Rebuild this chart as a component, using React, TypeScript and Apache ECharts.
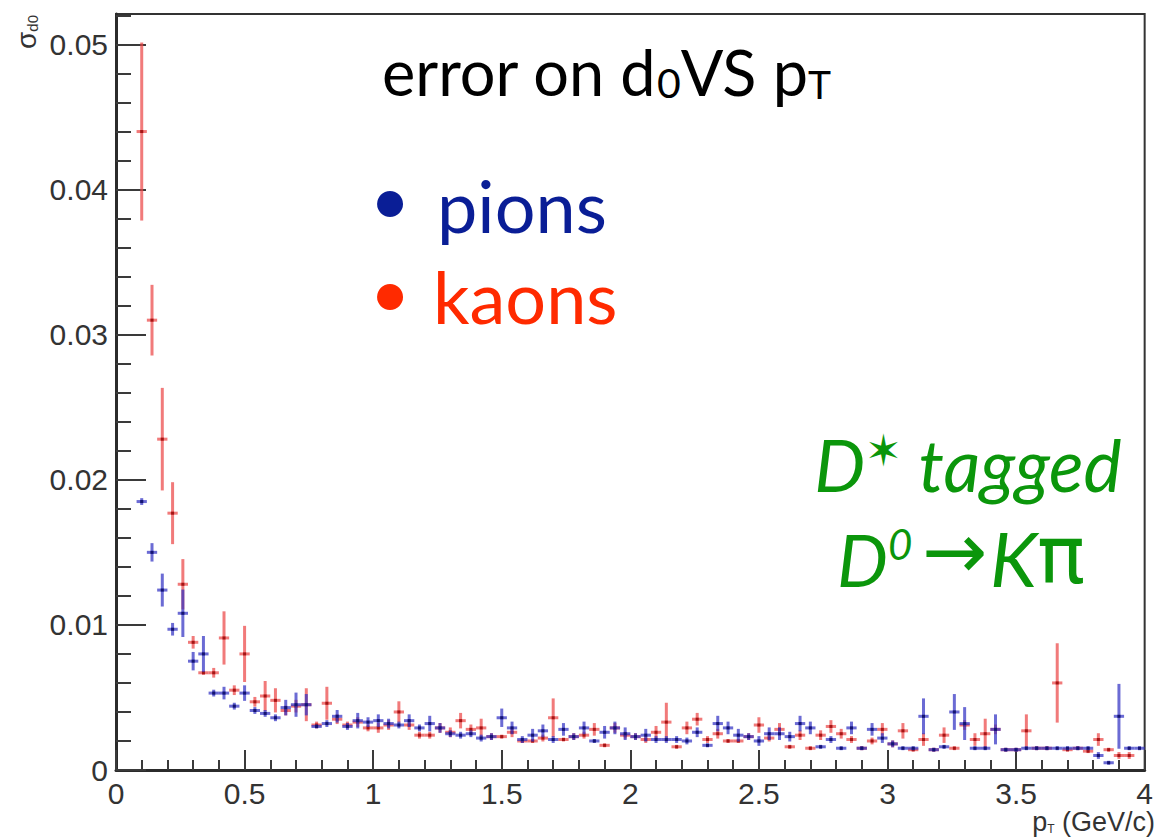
import React, { useEffect, useRef } from "react";
import * as echarts from "echarts";

// Bin centres of the pT histogram (GeV/c), 0.04 GeV/c wide bins
const ptBins = [
  0.10, 0.14, 0.18, 0.22, 0.26, 0.30, 0.34, 0.38, 0.42, 0.46,
  0.50, 0.54, 0.58, 0.62, 0.66, 0.70, 0.74, 0.78, 0.82, 0.86,
  0.90, 0.94, 0.98, 1.02, 1.06, 1.10, 1.14, 1.18, 1.22, 1.26,
  1.30, 1.34, 1.38, 1.42, 1.46, 1.50, 1.54, 1.58, 1.62, 1.66,
  1.70, 1.74, 1.78, 1.82, 1.86, 1.90, 1.94, 1.98, 2.02, 2.06,
  2.10, 2.14, 2.18, 2.22, 2.26, 2.30, 2.34, 2.38, 2.42, 2.46,
  2.50, 2.54, 2.58, 2.62, 2.66, 2.70, 2.74, 2.78, 2.82, 2.86,
  2.90, 2.94, 2.98, 3.02, 3.06, 3.10, 3.14, 3.18, 3.22, 3.26,
  3.30, 3.34, 3.38, 3.42, 3.46, 3.50, 3.54, 3.58, 3.62, 3.66,
  3.70, 3.74, 3.78, 3.82, 3.86, 3.90, 3.94, 3.98,
];

// sigma(d0) for pions and its uncertainty
const pionSigma = [
  0.0185, 0.0150, 0.0124, 0.0097, 0.0108, 0.0075, 0.0080, 0.0053, 0.0053, 0.0044,
  0.0053, 0.0041, 0.0039, 0.0036, 0.0043, 0.0045, 0.0045, 0.0030, 0.0032, 0.0037,
  0.0030, 0.0034, 0.0033, 0.0034, 0.0032, 0.0031, 0.0034, 0.0029, 0.0032, 0.0029,
  0.0025, 0.0024, 0.0025, 0.0022, 0.0023, 0.0036, 0.0029, 0.0021, 0.0024, 0.0027,
  0.0021, 0.0028, 0.0023, 0.0029, 0.0020, 0.0026, 0.0029, 0.0025, 0.0023, 0.0024,
  0.0021, 0.0021, 0.0021, 0.0020, 0.0026, 0.0017, 0.0032, 0.0029, 0.0024, 0.0023,
  0.0020, 0.0025, 0.0025, 0.0023, 0.0032, 0.0029, 0.0016, 0.0021, 0.0015, 0.0029,
  0.0015, 0.0028, 0.0022, 0.0018, 0.0015, 0.0015, 0.0037, 0.0014, 0.0016, 0.0040,
  0.0032, 0.0015, 0.0015, 0.0028, 0.0014, 0.0014, 0.0015, 0.0015, 0.0015, 0.0015,
  0.0015, 0.0015, 0.0015, 0.0010, 0.0005, 0.0037, 0.0015, 0.0015,
];
const pionErr = [
  0.0002, 0.0006, 0.0011, 0.0004, 0.0016, 0.0006, 0.0012, 0.0002, 0.0004, 0.0002,
  0.0005, 0.0002, 0.0002, 0.0002, 0.0005, 0.0008, 0.0007, 0.0001, 0.0002, 0.0004,
  0.0002, 0.0005, 0.0003, 0.0004, 0.0003, 0.0002, 0.0004, 0.0002, 0.0005, 0.0003,
  0.0002, 0.0002, 0.0002, 0.0002, 0.0002, 0.0006, 0.0004, 0.0002, 0.0004, 0.0004,
  0.0002, 0.0004, 0.0002, 0.0004, 0.0001, 0.0004, 0.0004, 0.0004, 0.0002, 0.0004,
  0.0002, 0.0002, 0.0002, 0.0002, 0.0003, 0.0001, 0.0005, 0.0004, 0.0004, 0.0002,
  0.0003, 0.0004, 0.0004, 0.0003, 0.0005, 0.0004, 0.0001, 0.0002, 0.0001, 0.0004,
  0.0001, 0.0004, 0.0003, 0.0002, 0.0001, 0.0001, 0.0012, 0.0001, 0.0001, 0.0012,
  0.0011, 0.0001, 0.0001, 0.0010, 0.0001, 0.0001, 0.0001, 0.0001, 0.0001, 0.0001,
  0.0001, 0.0001, 0.0001, 0.0002, 0.0001, 0.0022, 0.0001, 0.0001,
];

// sigma(d0) for kaons and its uncertainty (no entry in the last bin)
const kaonSigma = [
  0.0440, 0.0310, 0.0228, 0.0177, 0.0128, 0.0088, 0.0067, 0.0067, 0.0091, 0.0055,
  0.0080, 0.0047, 0.0051, 0.0048, 0.0041, 0.0044, 0.0045, 0.0031, 0.0046, 0.0035,
  0.0031, 0.0033, 0.0029, 0.0029, 0.0031, 0.0040, 0.0031, 0.0024, 0.0024, 0.0029,
  0.0026, 0.0034, 0.0028, 0.0029, 0.0023, 0.0023, 0.0026, 0.0020, 0.0020, 0.0022,
  0.0036, 0.0021, 0.0023, 0.0024, 0.0028, 0.0017, 0.0029, 0.0024, 0.0023, 0.0021,
  0.0026, 0.0033, 0.0016, 0.0029, 0.0035, 0.0021, 0.0025, 0.0020, 0.0020, 0.0023,
  0.0031, 0.0022, 0.0028, 0.0016, 0.0024, 0.0015, 0.0024, 0.0030, 0.0025, 0.0021,
  0.0015, 0.0020, 0.0028, 0.0018, 0.0027, 0.0014, 0.0021, 0.0014, 0.0024, 0.0015,
  0.0031, 0.0021, 0.0025, 0.0028, 0.0014, 0.0014, 0.0027, 0.0015, 0.0015, 0.0060,
  0.0014, 0.0015, 0.0013, 0.0021, 0.0014, 0.0010, 0.0010, null,
];
const kaonErr = [
  0.0061, 0.0024, 0.0035, 0.0021, 0.0017, 0.0004, 0.0001, 0.0003, 0.0018, 0.0003,
  0.0019, 0.0003, 0.0010, 0.0008, 0.0003, 0.0004, 0.0011, 0.0002, 0.0011, 0.0003,
  0.0002, 0.0003, 0.0002, 0.0003, 0.0003, 0.0007, 0.0003, 0.0002, 0.0002, 0.0003,
  0.0003, 0.0005, 0.0003, 0.0006, 0.0002, 0.0001, 0.0003, 0.0001, 0.0001, 0.0002,
  0.0013, 0.0001, 0.0002, 0.0002, 0.0004, 0.0001, 0.0003, 0.0002, 0.0002, 0.0002,
  0.0004, 0.0013, 0.0001, 0.0004, 0.0004, 0.0002, 0.0003, 0.0001, 0.0001, 0.0002,
  0.0005, 0.0002, 0.0004, 0.0001, 0.0003, 0.0001, 0.0003, 0.0004, 0.0003, 0.0002,
  0.0001, 0.0002, 0.0004, 0.0002, 0.0005, 0.0001, 0.0004, 0.0001, 0.0005, 0.0001,
  0.0003, 0.0004, 0.0010, 0.0003, 0.0001, 0.0001, 0.0011, 0.0001, 0.0001, 0.0027,
  0.0001, 0.0001, 0.0001, 0.0004, 0.0001, 0.0002, 0.0002, null,
];

// Axis ticks: labelled major ticks and the finer minor ticks of the y axis
const yMajorTicks = [0, 0.01, 0.02, 0.03, 0.04, 0.05];
const yMinorTicks = [
  0.002, 0.004, 0.006, 0.008, 0.012, 0.014, 0.016, 0.018, 0.022, 0.024, 0.026,
  0.028, 0.032, 0.034, 0.036, 0.038, 0.042, 0.044, 0.046, 0.048, 0.052,
];

const HALF_BIN = 0.02;
const Y_MAX = 0.0521;

function toPoints(vals: (number | null)[], errs: (number | null)[]) {
  const out: number[][] = [];
  ptBins.forEach((x, i) => {
    const v = vals[i];
    if (v == null) return;
    out.push([x, v, errs[i] ?? 0]);
  });
  return out;
}

function errorCross(barColor: string, dotColor: string) {
  return (params: any, api: any) => {
    const x = api.value(0);
    const y = api.value(1);
    const e = api.value(2);
    const l = api.coord([x - HALF_BIN, y]);
    const r = api.coord([x + HALF_BIN, y]);
    const t = api.coord([x, y + e]);
    const b = api.coord([x, Math.max(0, y - e)]);
    const c = api.coord([x, y]);
    return {
      type: "group",
      children: [
        {
          type: "line",
          shape: { x1: l[0], y1: l[1], x2: r[0], y2: r[1] },
          style: { stroke: barColor, lineWidth: 3 },
        },
        {
          type: "line",
          shape: { x1: t[0], y1: t[1] - 0.5, x2: b[0], y2: b[1] + 0.5 },
          style: { stroke: barColor, lineWidth: 3 },
        },
        {
          type: "rect",
          shape: { x: c[0] - 1.5, y: c[1] - 1.5, width: 3, height: 3 },
          style: { fill: dotColor },
        },
      ],
    };
  };
}

const AXIS_FONT = "'Liberation Sans', Arial, sans-serif";
const TEXT_FONT = "Lato, 'Open Sans', sans-serif";
const GREEN = "#0b960b";
const PION_BLUE = "#0a1e96";
const KAON_RED = "#ff2a00";

export default function App() {
  const ref = useRef<HTMLDivElement>(null);

  useEffect(() => {
    if (!ref.current) return;
    const chart = echarts.init(ref.current, undefined, { renderer: "svg" });

    const axisLineStyle = { color: "#2b2b2b", width: 3 };
    const tickLineStyle = { color: "#3a3a3a", width: 2 };
    const greenItalic = { fontFamily: TEXT_FONT, fontStyle: "italic", fontSize: 72, fill: GREEN, verticalAlign: "bottom" };

    chart.setOption({
      animation: false,
      backgroundColor: "#ffffff",
      grid: {
        left: 116,
        right: 2,
        top: 14,
        bottom: 70,
        show: true,
        borderColor: "#333",
        borderWidth: 2,
        backgroundColor: "transparent",
      },
      xAxis: {
        type: "value",
        min: 0,
        max: 4,
        interval: 0.5,
        axisLine: { show: true, onZero: false, lineStyle: axisLineStyle },
        axisTick: { show: true, inside: true, length: 20, lineStyle: tickLineStyle },
        minorTick: { show: true, splitNumber: 5, length: 10, lineStyle: tickLineStyle },
        splitLine: { show: false },
        minorSplitLine: { show: false },
        axisLabel: {
          fontFamily: AXIS_FONT,
          fontSize: 30,
          lineHeight: 24,
          color: "#333",
          margin: 11,
          showMinLabel: true,
          showMaxLabel: true,
        },
      },
      yAxis: [
        {
          type: "value",
          min: 0,
          max: Y_MAX,
          interval: 0.01,
          axisLine: { show: true, onZero: false, lineStyle: axisLineStyle },
          axisTick: {
            show: true,
            inside: true,
            length: 30,
            lineStyle: tickLineStyle,
            customValues: yMajorTicks,
          },
          splitLine: { show: false },
          axisLabel: {
            customValues: yMajorTicks,
            fontFamily: AXIS_FONT,
            fontSize: 30,
            color: "#333",
            margin: 8,
            formatter: (v: number) => String(Math.round(v * 1000) / 1000),
          },
        },
        {
          type: "value",
          min: 0,
          max: Y_MAX,
          position: "left",
          axisLine: { show: false },
          axisTick: {
            show: true,
            inside: true,
            length: 15,
            lineStyle: tickLineStyle,
            customValues: yMinorTicks,
          },
          axisLabel: { show: false },
          splitLine: { show: false },
        },
      ],
      series: [
        {
          name: "kaons",
          type: "custom",
          clip: true,
          renderItem: errorCross("rgba(236, 70, 70, 0.72)", "#a31515"),
          data: toPoints(kaonSigma, kaonErr),
          encode: { x: 0, y: 1 },
          z: 2,
        },
        {
          name: "pions",
          type: "custom",
          clip: true,
          renderItem: errorCross("rgba(50, 50, 195, 0.72)", "#141470"),
          data: toPoints(pionSigma, pionErr),
          encode: { x: 0, y: 1 },
          z: 3,
        },
      ],
      graphic: [
        // y axis title: sigma_d0, rotated
        {
          type: "text",
          x: 26,
          y: 32,
          rotation: Math.PI / 2,
          style: {
            text: "{a|σ}{s|d0}",
            align: "center",
            verticalAlign: "middle",
            rich: {
              a: { fontFamily: AXIS_FONT, fontSize: 28, fill: "#333", verticalAlign: "bottom" },
              s: { fontFamily: AXIS_FONT, fontSize: 15, fill: "#333", verticalAlign: "bottom" },
            },
          },
        },
        // x axis title: p_T (GeV/c)
        {
          type: "text",
          x: 1155,
          y: 835,
          style: {
            text: "{a|p}{s|T}{a| (GeV/c)}",
            align: "right",
            verticalAlign: "bottom",
            rich: {
              a: { fontFamily: AXIS_FONT, fontSize: 27, lineHeight: 27, fill: "#333", verticalAlign: "bottom" },
              s: { fontFamily: AXIS_FONT, fontSize: 12, fill: "#333", verticalAlign: "bottom" },
            },
          },
        },
        // plot title
        {
          type: "text",
          x: 382,
          y: 103,
          style: {
            text: "{a|error on d}{s|0}{a|VS p}{t|T}",
            align: "left",
            verticalAlign: "bottom",
            rich: {
              a: { fontFamily: TEXT_FONT, fontSize: 63, fill: "#000", verticalAlign: "bottom" },
              s: { fontFamily: TEXT_FONT, fontSize: 41, fill: "#000", verticalAlign: "bottom" },
              t: { fontFamily: TEXT_FONT, fontSize: 39, fill: "#000", verticalAlign: "bottom" },
            },
          },
        },
        // bullet list of particle species
        {
          type: "text",
          x: 390,
          y: 198,
          style: {
            text: "•",
            fontFamily: TEXT_FONT,
            fontSize: 70,
            fill: PION_BLUE,
            align: "center",
            verticalAlign: "middle",
          },
        },
        {
          type: "text",
          x: 437,
          y: 205,
          style: {
            text: "pions",
            fontFamily: TEXT_FONT,
            fontSize: 72,
            fill: PION_BLUE,
            align: "left",
            verticalAlign: "middle",
          },
        },
        {
          type: "text",
          x: 390,
          y: 291,
          style: {
            text: "•",
            fontFamily: TEXT_FONT,
            fontSize: 70,
            fill: KAON_RED,
            align: "center",
            verticalAlign: "middle",
          },
        },
        {
          type: "text",
          x: 433,
          y: 296,
          style: {
            text: "kaons",
            fontFamily: TEXT_FONT,
            fontSize: 72,
            fill: KAON_RED,
            align: "left",
            verticalAlign: "middle",
          },
        },
        // decay channel annotation
        {
          type: "text",
          x: 968,
          y: 500,
          style: {
            text: "{d|D}{st|✶}{d| tagged}",
            align: "center",
            verticalAlign: "bottom",
            rich: {
              d: greenItalic,
              st: { fontFamily: "'DejaVu Sans'", fontSize: 44, fill: GREEN, verticalAlign: "top" },
            },
          },
        },
        {
          type: "text",
          x: 837,
          y: 595,
          style: {
            text: "{d|D}{sp|0}",
            align: "left",
            verticalAlign: "bottom",
            rich: {
              d: greenItalic,
              sp: { fontFamily: TEXT_FONT, fontStyle: "italic", fontSize: 42, fill: GREEN, verticalAlign: "top" },
            },
          },
        },
        {
          type: "text",
          x: 955,
          y: 551,
          style: {
            text: "→",
            fontFamily: "'DejaVu Sans'",
            fontSize: 78,
            fill: GREEN,
            align: "center",
            verticalAlign: "middle",
          },
        },
        {
          type: "text",
          x: 990,
          y: 595,
          style: {
            text: "{d|K}{pi|π}",
            align: "left",
            verticalAlign: "bottom",
            rich: {
              d: { ...greenItalic, fontSize: 76 },
              pi: { fontFamily: "'DejaVu Sans'", fontSize: 80, fill: GREEN, verticalAlign: "bottom" },
            },
          },
        },
      ],
    });

    return () => chart.dispose();
  }, []);

  return (
    <div
      ref={ref}
      style={{ position: "fixed", left: 0, top: 0, width: 1156, height: 840, background: "#fff" }}
    />
  );
}
